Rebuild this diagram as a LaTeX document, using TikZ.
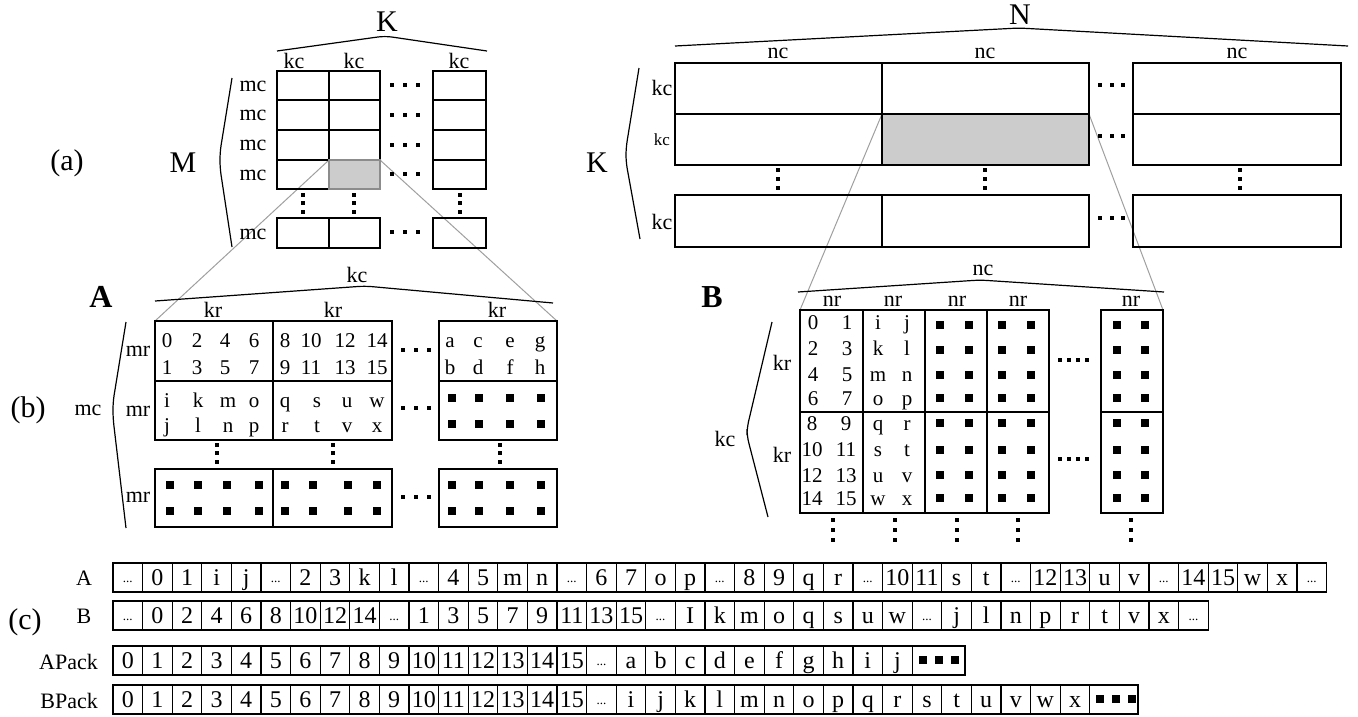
\documentclass[tikz,border=0pt]{standalone}
\usepackage{fontspec}
\setmainfont{Liberation Serif}
\newcommand\mydot[2]{\fill (#1,#2) ++(-1.6,-1.6) rectangle ++(3.2,3.2);}
\newcommand\mysq[2]{\fill (#1,#2) ++(-3.7,-3.7) rectangle ++(7.4,7.4);}
\newcommand\ld{\raisebox{3pt}{\fontsize{13}{13}\selectfont...}}
\begin{document}
\begin{tikzpicture}[x=1pt,y=-1pt,
 box/.style={draw=black,line width=1.25pt},
 zoomline/.style={draw=gray!75,line width=1pt},
 brace/.style={draw=black,line width=1.2pt,rounded corners=7pt},
 lab/.style={inner sep=0pt,font=\fontsize{22}{24}\selectfont},
 slab/.style={inner sep=0pt,font=\fontsize{17}{19}\selectfont},
 big/.style={inner sep=0pt,font=\fontsize{30}{32}\selectfont},
 bigb/.style={inner sep=0pt,font=\fontsize{32}{34}\selectfont\bfseries},
 ct/.style={inner sep=0pt,anchor=base,font=\fontsize{21}{23}\selectfont},
 pc/.style={inner sep=0pt,anchor=base,font=\fontsize{24}{26}\selectfont},
]
\useasboundingbox (0,0) rectangle (1358,716);

% ---------------- zoom lines ----------------
\coordinate (aSL) at (329,160); \coordinate (aSR) at (380,160);
\coordinate (bTL) at (155,321); \coordinate (bTR) at (557,321);
\coordinate (cSL) at (882,114); \coordinate (cSR) at (1089,114);
\coordinate (dTL) at (800,310); \coordinate (dTR) at (1163,310);
\draw[zoomline] (aSL) -- (bTL);
\draw[zoomline] (aSR) -- (bTR);
\draw[zoomline] (cSL) -- (dTL);
\draw[zoomline] (cSR) -- (dTR);

% ---------------- (a) left: M x K ----------------
\node[big] (la) at (67,163) {(a)};
\node[big] (lM) at (183,163) {M};
\draw[brace] (232,78) -- (220,152) -- (220,168) -- (232,247);
\node[big] (lK1) at (387,22) {K};
\draw[brace] (277,51) -- (385,36) -- (487,51);
\foreach \x/\n in {294/1,354/2,459/3} \node[lab] (akc\n) at (\x,61) {kc};
\foreach \y/\n in {86/1,115/2,145/3,175/4,234/5} \node[lab] (amc\n) at (253,\y) {mc};
\fill[gray!40] (329,160) rectangle (380,189);
\draw[box] (277,71) rectangle (380,189);
\foreach \y in {100,130,160} \draw[box] (277,\y) -- (380,\y);
\draw[box] (329,71) -- (329,189);
\draw[draw=gray!90,line width=1.2pt] (329,160) rectangle (380,189);
\draw[box] (433,71) rectangle (486,189);
\foreach \y in {100,130,160} \draw[box] (433,\y) -- (486,\y);
\draw[box] (277,218) rectangle (380,248);
\draw[box] (329,218) -- (329,248);
\draw[box] (433,218) rectangle (486,248);
\foreach \y in {85,115,145,174,232} {\mydot{392}{\y}\mydot{405}{\y}\mydot{418}{\y}}
\foreach \x in {303,354,460} {\mydot{\x}{195}\mydot{\x}{203}\mydot{\x}{212}}

% ---------------- (a) right: K x N ----------------
\node[big] (lK2) at (597,163) {K};
\draw[brace] (639,68) -- (626,148) -- (626,162) -- (640,239);
\node[big] (lN) at (1020,15) {N};
\draw[brace] (675,46) -- (1019,28) -- (1348,46);
\foreach \x/\n in {778/1,985/2,1237/3} \node[lab] (anc\n) at (\x,53) {nc};
\node[lab] (bkc1) at (662,88) {kc};
\node[slab] (bkc2) at (662,140) {kc};
\node[lab] (bkc3) at (662,222) {kc};
\fill[gray!40] (882,114) rectangle (1089,165);
\draw[box] (675,63) rectangle (1089,165);
\draw[box] (675,114) -- (1089,114);
\draw[box] (882,63) -- (882,165);
\draw[box] (1133,63) rectangle (1341,165);
\draw[box] (1133,114) -- (1341,114);
\draw[box] (675,195) rectangle (1089,247);
\draw[box] (882,195) -- (882,247);
\draw[box] (1133,195) rectangle (1341,247);
\foreach \y in {85,136,218} {\mydot{1100}{\y}\mydot{1112}{\y}\mydot{1123}{\y}}
\foreach \x in {778,985,1240} {\mydot{\x}{170}\mydot{\x}{179}\mydot{\x}{188}}

% ---------------- (b) A ----------------
\node[big] (lb) at (28,410) {(b)};
\node[bigb] (lA) at (101,297) {A};
\node[lab] (Amc) at (88,410) {mc};
\draw[brace] (126,322) -- (113,402) -- (113,418) -- (126,528);
\node[lab] (Akc) at (357,275) {kc};
\draw[brace] (155,301) -- (365,286) -- (553,303);
\foreach \x/\n in {213/1,333/2,497/3} \node[lab] (Akr\n) at (\x,310) {kr};
\foreach \y/\n in {351/1,411/2,497/3} \node[lab] (Amr\n) at (138,\y) {mr};
\draw[box] (155,321) rectangle (392,440);
\draw[box] (155,381) -- (392,381);
\draw[box] (273,321) -- (273,440);
\draw[box] (439,321) rectangle (557,440);
\draw[box] (439,381) -- (557,381);
\draw[box] (155,469) rectangle (392,527);
\draw[box] (273,469) -- (273,527);
\draw[box] (439,469) rectangle (557,527);
% contents
\foreach \x/\a/\b in {167/0/1,197/2/3,225/4/5,254/6/7,285/8/9,311/10/11,345/12/13,377/14/15,450/a/b,478/c/d,510/e/f,540/g/h}
  {\node[ct] at (\x,347) {\a}; \node[ct] at (\x,374) {\b};}
\foreach \x/\a/\b in {167/i/j,198/k/l,228/m/n,254/o/p,285/q/r,317/s/t,347/u/v,377/w/x}
  {\node[ct] at (\x,407) {\a}; \node[ct] at (\x,432) {\b};}
\foreach \x in {452,479,510,541} {\mysq{\x}{398}\mysq{\x}{424}\mysq{\x}{485}\mysq{\x}{511}}
\foreach \x in {170,198,227,259,285,313,348,377} {\mysq{\x}{485}\mysq{\x}{511}}
\foreach \y in {350,408,497} {\mydot{403}{\y}\mydot{416}{\y}\mydot{429}{\y}}
\foreach \x in {217,333,500} {\mydot{\x}{445}\mydot{\x}{453}\mydot{\x}{462}}

% ---------------- (b) B ----------------
\node[bigb] (lB) at (712,297) {B};
\node[lab] (Bkc) at (725,439) {kc};
\draw[brace] (772,322) -- (747,428) -- (747,436) -- (768,517);
\node[lab] (Bnc) at (983,270) {nc};
\draw[brace] (798,292) -- (980,280) -- (1164,292);
\foreach \x/\n in {832/1,893/2,957/3,1018/4,1131/5} \node[lab] (Bnr\n) at (\x,301) {nr};
\node[lab] (Bkr1) at (782,363) {kr};
\node[lab] (Bkr2) at (782,455) {kr};
\draw[box] (800,310) rectangle (1049,513);
\draw[box] (800,412) -- (1049,412);
\foreach \x in {863,925,987} \draw[box] (\x,310) -- (\x,513);
\draw[box] (1101,310) rectangle (1163,513);
\draw[box] (1101,412) -- (1163,412);
\foreach \y/\a/\b/\c/\d in {329.5/0/1/i/j,355.5/2/3/k/l,381.5/4/5/m/n,405.5/6/7/o/p}
  {\node[ct] at (813,\y) {\a}; \node[ct] at (847,\y) {\b}; \node[ct] at (878,\y) {\c}; \node[ct] at (907,\y) {\d};}
\foreach \y/\a/\b/\c/\d in {430.5/8/9/q/r,456.5/10/11/s/t,482.5/12/13/u/v,505.5/14/15/w/x}
  {\node[ct] at (812,\y) {\a}; \node[ct] at (846,\y) {\b}; \node[ct] at (878,\y) {\c}; \node[ct] at (907,\y) {\d};}
\foreach \y in {325,350,375,398,423,450,475,498}
  {\mysq{940}{\y}\mysq{969}{\y}\mysq{1002}{\y}\mysq{1031}{\y}\mysq{1117}{\y}\mysq{1145}{\y}}
\foreach \y in {360,459} {\mydot{1060}{\y}\mydot{1069}{\y}\mydot{1078}{\y}\mydot{1087}{\y}}
\foreach \x in {833,895,957,1018,1131} {\mydot{\x}{520}\mydot{\x}{530}\mydot{\x}{540}}

% ---------------- (c) ----------------
\node[big] (lc) at (25,622) {(c)};
\node[lab] (rA) at (84,578) {A};
\node[lab] (rB) at (84,616) {B};
\node[lab,anchor=east] (rAP) at (98,662) {APack};
\node[lab,anchor=east] (rBP) at (98,701) {BPack};
\foreach \t [count=\i from 0] in {\ld,0,1,i,j,\ld,2,3,k,l,\ld,4,5,m,n,\ld,6,7,o,p,\ld,8,9,q,r,\ld,10,11,s,t,\ld,12,13,u,v,\ld,14,15,w,x,\ld}
 {\draw[box] ({113+\i*29.6},563) rectangle ++(29.6,29);
  \node[pc] (ca\i) at ({127.8+\i*29.6},585.5) {\t};}
\foreach \t [count=\i from 0] in {\ld,0,2,4,6,8,10,12,14,\ld,1,3,5,7,9,11,13,15,\ld,I,k,m,o,q,s,u,w,\ld,j,l,n,p,r,t,v,x,\ld}
 {\draw[box] ({113+\i*29.6},601) rectangle ++(29.6,29);
  \node[pc] (cb\i) at ({127.8+\i*29.6},623.5) {\t};}
\foreach \t [count=\i from 0] in {0,1,2,3,4,5,6,7,8,9,10,11,12,13,14,15,\ld,a,b,c,d,e,f,g,h,i,j}
 {\draw[box] ({113+\i*29.6},646) rectangle ++(29.6,29);
  \node[pc] (cap\i) at ({127.8+\i*29.6},668.5) {\t};}
\draw[box] (912.2,646) rectangle (965,675);
\mysq{923}{660}\mysq{939}{660}\mysq{955}{660}
\foreach \t [count=\i from 0] in {0,1,2,3,4,5,6,7,8,9,10,11,12,13,14,15,\ld,i,j,k,l,m,n,o,p,q,r,s,t,u,v,w,x}
 {\draw[box] ({113+\i*29.6},685) rectangle ++(29.6,29);
  \node[pc] (cbp\i) at ({127.8+\i*29.6},707.5) {\t};}
\draw[box] (1089.8,685) rectangle (1138,714);
\mysq{1100}{699}\mysq{1116}{699}\mysq{1132}{699}
\end{tikzpicture}
\end{document}
